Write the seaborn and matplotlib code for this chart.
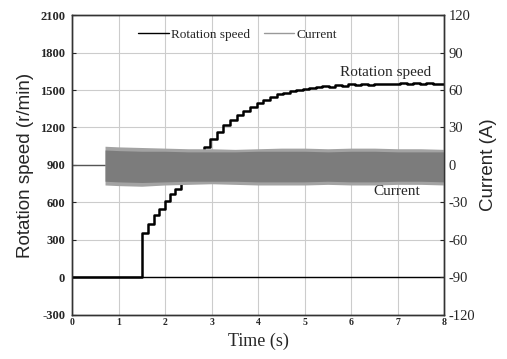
import numpy as np
import pandas as pd
import matplotlib
matplotlib.use("Agg")
import matplotlib.pyplot as plt
import seaborn as sns
from matplotlib.lines import Line2D

# rotation speed (r/min), step points
speed_t = [0.0, 1.5, 1.63, 1.76, 1.88, 2.0, 2.1, 2.22, 2.35, 2.48, 2.6, 2.72,
           2.84, 2.97, 3.11, 3.25, 3.40, 3.54, 3.68, 3.83, 3.97, 4.11, 4.26,
           4.40, 4.54, 4.68, 4.82, 4.96, 5.10, 5.24, 5.38, 5.52, 5.66, 5.80,
           5.94, 6.08, 6.22, 6.36, 6.50, 6.64, 6.78, 6.92, 7.06, 7.20, 7.34,
           7.48, 7.62, 7.76, 7.90, 8.0]
speed_v = [0, 356, 429, 496, 549, 611, 664, 710, 770, 835, 900, 965,
           1041, 1105, 1167, 1220, 1260, 1300, 1335, 1367, 1399, 1420, 1441,
           1465, 1478, 1490, 1502, 1512, 1515, 1522, 1530, 1528, 1538, 1535,
           1545, 1540, 1548, 1542, 1550, 1545, 1552, 1546, 1553, 1547, 1555,
           1548, 1556, 1549, 1552, 1552]

# current (A): zero before switching on, then an oscillating band (envelope)
cur_idle_t = [0.0, 0.71]
cur_idle_v = [0, 0]
band_t = [0.71, 1.0, 1.5, 2.0, 2.5, 3.0, 3.5, 4.0, 4.5, 5.0, 5.5, 6.0, 6.5, 7.0, 7.5, 8.0]
band_hi = [15, 14.5, 14, 13.5, 13, 13, 12.5, 13, 13.5, 13.5, 13, 13.5, 13.5, 13, 13, 12.5]
band_lo = [-16, -16.5, -17, -16, -15.5, -15, -15.5, -16, -16, -16, -15.5, -16, -16, -15.5, -15.5, -16]
core_hi = [12, 11.5, 11, 11, 10.5, 10.5, 10.5, 11, 11, 11, 10.5, 11, 11, 10.5, 10.5, 10.5]
core_lo = [-13, -13.5, -14, -13.5, -13, -13, -13, -13.5, -13.5, -13.5, -13, -13.5, -13.5, -13, -13, -13.5]

sns.set_style("white")
plt.rcParams['font.family'] = ['Liberation Serif', 'DejaVu Serif']
plt.rcParams['axes.unicode_minus'] = False

fig = plt.figure(figsize=(5.07, 3.59), dpi=100)
ax = fig.add_axes([0.142, 0.1226, 0.734, 0.8356])

df_speed = pd.DataFrame({"t": speed_t, "speed": speed_v})
sns.lineplot(data=df_speed, x="t", y="speed", ax=ax, color="black", lw=1.8,
             drawstyle="steps-post", estimator=None, sort=False, zorder=3)
ax.axhline(0, color="black", lw=1.0, zorder=2)

ax.set_xlim(0, 8)
ax.set_ylim(-300, 2100)
ax.set_xticks(range(0, 9))
ax.set_yticks(range(-300, 2101, 300))
ax.grid(True, color="#cccccc", lw=0.8)
ax.set_axisbelow(True)
ax.tick_params(axis="y", direction="in", length=3, labelsize=9, width=0.8, pad=5)
ax.tick_params(axis="x", direction="in", length=3, labelsize=7, width=0.8, pad=2)
for lab in ax.get_xticklabels() + ax.get_yticklabels():
    lab.set_fontweight("bold")
ax.set_xlabel("Time (s)", fontsize=13, labelpad=4)
ax.set_ylabel("Rotation speed (r/min)", fontsize=13.5, family=['Liberation Sans'], labelpad=4)

ax2 = ax.twinx()
ax2.set_ylim(-120, 120)
ax2.set_yticks(range(-120, 121, 30))
sns.lineplot(x=cur_idle_t, y=cur_idle_v, ax=ax2, color="#555555", lw=1.0)
ax2.fill_between(band_t, band_lo, band_hi, color="#a3a3a3", lw=0, zorder=2)
ax2.fill_between(band_t, core_lo, core_hi, color="#7c7c7c", lw=0, zorder=2)
ax2.tick_params(direction="in", length=3, labelsize=10.5, width=0.8, pad=3)
ax2.set_ylabel("Current (A)", fontsize=13.5, family=['Liberation Sans'], labelpad=4)

for a in (ax, ax2):
    for s in a.spines.values():
        s.set_color("#333333")
        s.set_linewidth(1.0)

ax2.text(6.74, 74, "Rotation speed", fontsize=11, ha="center", va="center")
ax2.text(6.99, -21, "Current", fontsize=11, ha="center", va="center")

handles = [Line2D([], [], color="black", lw=1.0),
           Line2D([], [], color="#999999", lw=1.0)]
ax2.legend(handles, ["Rotation speed", "Current"], loc="center",
           bbox_to_anchor=(0.445, 0.935), ncol=2, frameon=False, fontsize=9.5,
           handlelength=2.3, handletextpad=0.15, columnspacing=1.1)

fig.savefig("out.png", dpi=100)
